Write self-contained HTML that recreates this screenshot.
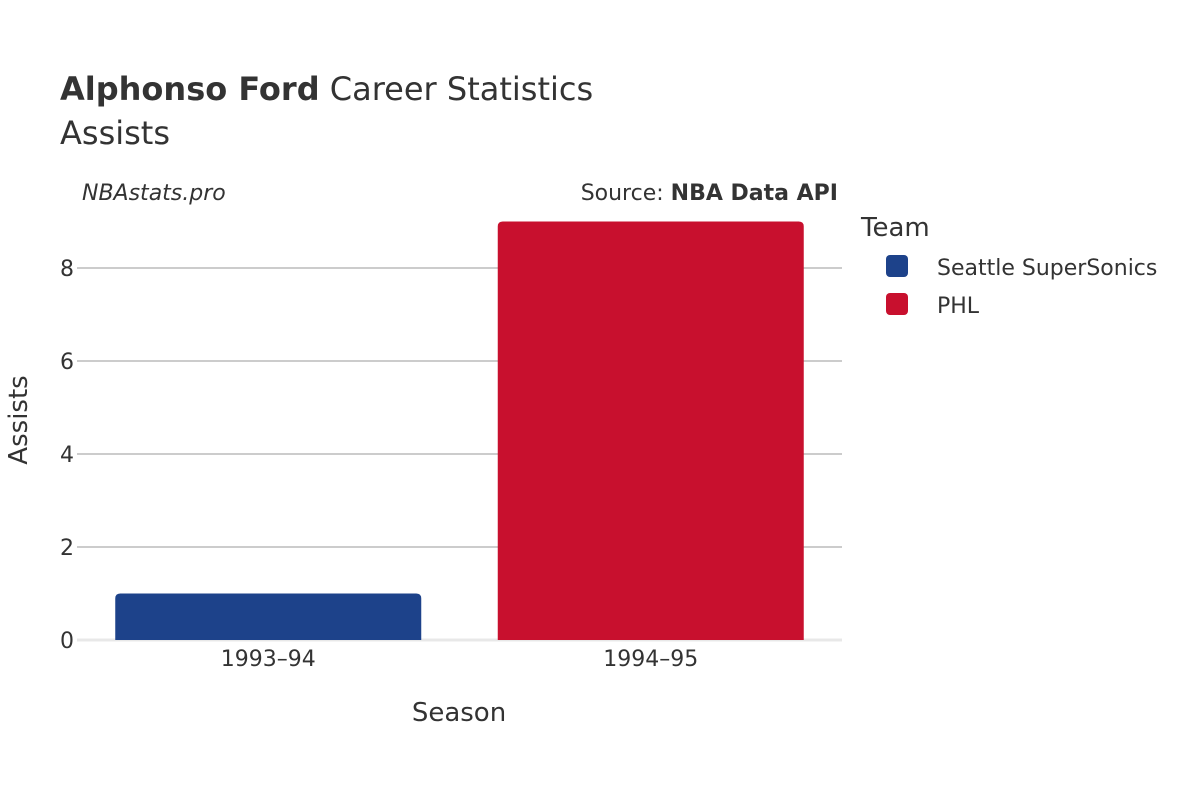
<!DOCTYPE html>
<html><head><meta charset="utf-8"><style>
body{margin:0;background:#fff;}
svg text{font-family:"DejaVu Sans","Liberation Sans",sans-serif;fill:#333;}
</style></head><body>
<svg width="1200" height="800" viewBox="0 0 1200 800">
<text x="60" y="100" font-size="32"><tspan font-weight="bold">Alphonso Ford</tspan> Career Statistics</text>
<text x="60" y="144" font-size="32">Assists</text>
<text x="82" y="200" font-size="22" font-style="italic">NBAstats.pro</text>
<text x="838" y="200" font-size="22" text-anchor="end">Source: <tspan font-weight="bold">NBA Data API</tspan></text>
<g id="grid"></g>
<g id="bars"></g>
<g id="xticks"></g>
<text x="459" y="721" font-size="26" text-anchor="middle">Season</text>
<text transform="translate(27,420) rotate(-90)" font-size="26" text-anchor="middle">Assists</text>
<text x="861" y="236" font-size="26">Team</text>
<g><rect x="886" y="255" width="22" height="22" rx="4" fill="#1d428a"/><text x="937" y="275" font-size="22">Seattle SuperSonics</text></g>
<g><rect x="886" y="293" width="22" height="22" rx="4" fill="#c8102e"/><text x="937" y="313" font-size="22">PHL</text></g>
</svg>
<script>
const categories=["1993–94","1994–95"];
const values=[1,9];
const colors=["#1d428a","#c8102e"];
const teams=["seattle","phl"];
const yTicks=[0,2,4,6,8];
const ns="http://www.w3.org/2000/svg";
const x0=77,x1=842,yb=640,unit=46.5;
const y=v=>yb-v*unit;
const band=(x1-x0)/categories.length;
const grid=document.getElementById('grid');
yTicks.forEach(t=>{
  const l=document.createElementNS(ns,'line');
  
  
  l.setAttribute('x1',x0);l.setAttribute('x2',x1);l.setAttribute('y1',y(t));l.setAttribute('y2',y(t));
  l.setAttribute('stroke',t===0?'#e8e8e8':'#999');l.setAttribute('stroke-width',t===0?3:1);
  grid.appendChild(l);
  const tx=document.createElementNS(ns,'text');
  
  
  tx.setAttribute('x',x0-3);tx.setAttribute('y',y(t)+8);tx.setAttribute('text-anchor','end');tx.setAttribute('font-size','22');
  tx.textContent=t;grid.appendChild(tx);
});
const bars=document.getElementById('bars');
categories.forEach((c,i)=>{
  const w=band*0.8,bx=x0+band*i+band*0.1,top=y(values[i]);
  const p=document.createElementNS(ns,'path');
  
  
  const r=5;
  p.setAttribute('d',`M${bx},${yb} L${bx},${top+r} Q${bx},${top} ${bx+r},${top} L${bx+w-r},${top} Q${bx+w},${top} ${bx+w},${top+r} L${bx+w},${yb} Z`);
  p.setAttribute('fill',colors[i]);
  bars.appendChild(p);
  const tx=document.createElementNS(ns,'text');
  
  
  tx.setAttribute('x',x0+band*(i+0.5));tx.setAttribute('y',666);tx.setAttribute('text-anchor','middle');tx.setAttribute('font-size','22');
  tx.textContent=c;document.getElementById('xticks').appendChild(tx);
});
</script>
</body></html>
